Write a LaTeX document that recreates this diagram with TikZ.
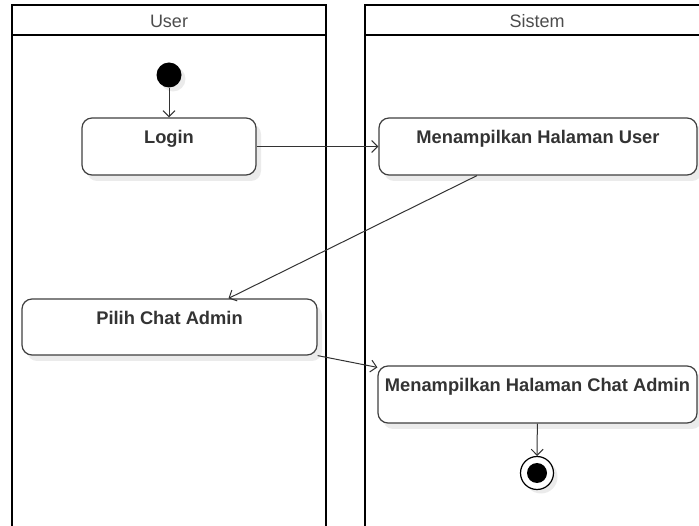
\documentclass[tikz,border=0pt]{standalone}
\usepackage{fontspec}
\setmainfont{Liberation Sans}
\usetikzlibrary{positioning,shadows,arrows.meta}

\begin{document}
\begin{tikzpicture}[x=1pt,y=-1pt,
	act/.style={rectangle,rounded corners=10pt,draw=black!75,line width=1.2pt,fill=white,inner sep=0pt,
		drop shadow={shadow xshift=5pt,shadow yshift=-6pt,fill=black!8,opacity=1}},
	lbl/.style={font=\bfseries\fontsize{18.3}{20}\selectfont,text=black!80,below=9pt},
	hdr/.style={font=\fontsize{18}{20}\selectfont,text=black!70},
	lane/.style={draw=black,line width=2.2pt},
	flow/.style={draw=black!80,line width=1pt,-{Straight Barb[length=6pt,width=12pt]}},
	startst/.style={circle,fill=black,minimum size=25pt,inner sep=0pt,
		drop shadow={shadow xshift=4pt,shadow yshift=-4pt,fill=black!8,opacity=1}},
	endst/.style={circle,draw=black,line width=1.2pt,fill=white,minimum size=33pt,inner sep=0pt,
		drop shadow={shadow xshift=4pt,shadow yshift=-4pt,fill=black!8,opacity=1}}]
	\useasboundingbox (0,0) rectangle (699,526);
	% swimlanes
	\draw[lane] (12,5) rectangle (326,540);
	\draw[lane] (12,35) -- (326,35);
	\draw[lane] (365,5) rectangle (710,540);
	\draw[lane] (365,35) -- (710,35);
	\node[hdr] (huser) at (169,21.5) {User};
	\node[hdr] (hsistem) at (537,21.5) {Sistem};
	% states
	\node[startst] (start) at (169,75) {};
	\node[act,minimum width=174pt,minimum height=57pt,label={[lbl]north:Login}] (login) at (169,146.5) {};
	\node[act,minimum width=318pt,minimum height=57pt,label={[lbl]north:Menampilkan Halaman User}] (mhu) at (538,146.5) {};
	\node[act,minimum width=295pt,minimum height=56pt,label={[lbl]north:Pilih Chat Admin}] (pilih) at (169.5,327) {};
	\node[act,minimum width=319pt,minimum height=57pt,label={[lbl]north:Menampilkan Halaman Chat Admin}] (mhca) at (537.5,394.5) {};
	\node[endst] (end) at (537,473) {};
	\fill (end) circle[radius=10pt];
	% transitions
	\draw[flow] (start) -- (login);
	\draw[flow] (login) -- (mhu);
	\draw[flow] ([xshift=-61pt]mhu.south) -- ([xshift=59pt]pilih.north);
	\draw[flow] (pilih.south east) -- ([yshift=-2pt]mhca.north west);
	\draw[flow] (mhca) -- (end);
\end{tikzpicture}
\end{document}
